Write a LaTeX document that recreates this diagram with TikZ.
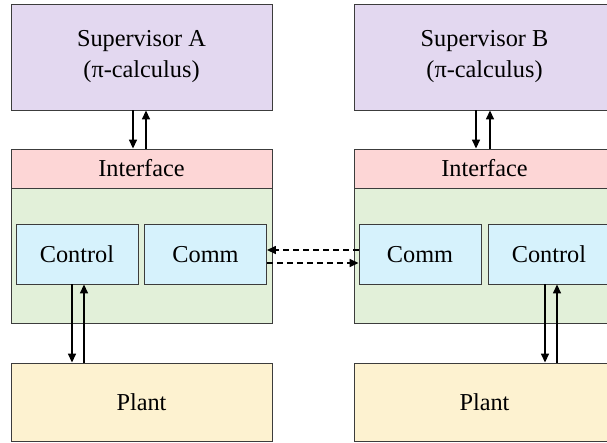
\documentclass[tikz,border=0pt]{standalone}
\usepackage{fontspec}
\setmainfont{Liberation Serif}
\usetikzlibrary{arrows.meta,calc}
\definecolor{supfill}{HTML}{E3D8F0}
\definecolor{intfill}{HTML}{FDD6D6}
\definecolor{bodyfill}{HTML}{E2F0D9}
\definecolor{modfill}{HTML}{D6F2FC}
\definecolor{plantfill}{HTML}{FDF2D0}
\definecolor{edge}{HTML}{3C3C3C}
\tikzset{
  box/.style={draw=edge, line width=0.9pt, rectangle, inner sep=0pt, align=center,
    font=\fontsize{24.3}{31}\selectfont},
  one/.style={text height=18pt, text depth=2pt},
  sup/.style={box, fill=supfill, minimum width=261pt, minimum height=106pt},
  intf/.style={box, one, fill=intfill, minimum width=261pt, minimum height=39pt},
  body/.style={box, fill=bodyfill, minimum width=261pt, minimum height=135pt},
  modl/.style={box, one, fill=modfill, minimum width=122pt, minimum height=60pt},
  plnt/.style={box, one, fill=plantfill, minimum width=261pt, minimum height=78pt},
  arr/.style={line width=1.5pt, -{Triangle[length=9pt,width=8pt]}},
  darr/.style={arr, dash pattern=on 6pt off 4pt}
}
\begin{document}
\begin{tikzpicture}[x=1pt,y=-1pt]
\path[use as bounding box, clip] (0,0) rectangle (607,442);
% left column
\node[sup] (supA) at (141.5,57) {Supervisor A\\(π-calculus)};
\node[intf] (intA) at (141.5,168.5) {Interface};
\node[body] (bodyA) at (141.5,255.5) {};
\node[modl] (ctrlA) at (77,254) {Control};
\node[modl] (commA) at (205.5,254) {Comm};
\node[plnt] (plantA) at (141.5,402) {Plant};
% right column
\node[sup] (supB) at (484.5,57) {Supervisor B\\(π-calculus)};
\node[intf] (intB) at (484.5,168.5) {Interface};
\node[body] (bodyB) at (484.5,255.5) {};
\node[modl] (commB) at (420,254) {Comm};
\node[modl] (ctrlB) at (549,254) {Control};
\node[plnt] (plantB) at (484.5,402) {Plant};
% supervisor <-> interface
\coordinate (sA1) at ([xshift=-8.5pt]supA.south);
\coordinate (sA2) at ([xshift=4.5pt]supA.south);
\draw[arr] (sA1) -- (sA1 |- intA.north);
\draw[arr] (sA2 |- intA.north) -- (sA2);
\coordinate (sB1) at ([xshift=-8.5pt]supB.south);
\coordinate (sB2) at ([xshift=5.5pt]supB.south);
\draw[arr] (sB1) -- (sB1 |- intB.north);
\draw[arr] (sB2 |- intB.north) -- (sB2);
% control <-> plant
\coordinate (cA1) at ([xshift=-5pt]ctrlA.south);
\coordinate (cA2) at ([xshift=7pt]ctrlA.south);
\draw[arr] (cA1) -- (cA1 |- plantA.north);
\draw[arr] (cA2 |- plantA.north) -- (cA2);
\coordinate (cB1) at ([xshift=-4pt]ctrlB.south);
\coordinate (cB2) at ([xshift=8pt]ctrlB.south);
\draw[arr] (cB1) -- (cB1 |- plantB.north);
\draw[arr] (cB2 |- plantB.north) -- (cB2);
% comm <-> comm (dashed)
\coordinate (dU) at ([yshift=4pt]commB.west);
\coordinate (dL) at ([yshift=-9pt]commA.east);
\draw[darr] (dU) -- (dU -| commA.east);
\draw[darr] (dL) -- (dL -| commB.west);
\end{tikzpicture}
\end{document}
